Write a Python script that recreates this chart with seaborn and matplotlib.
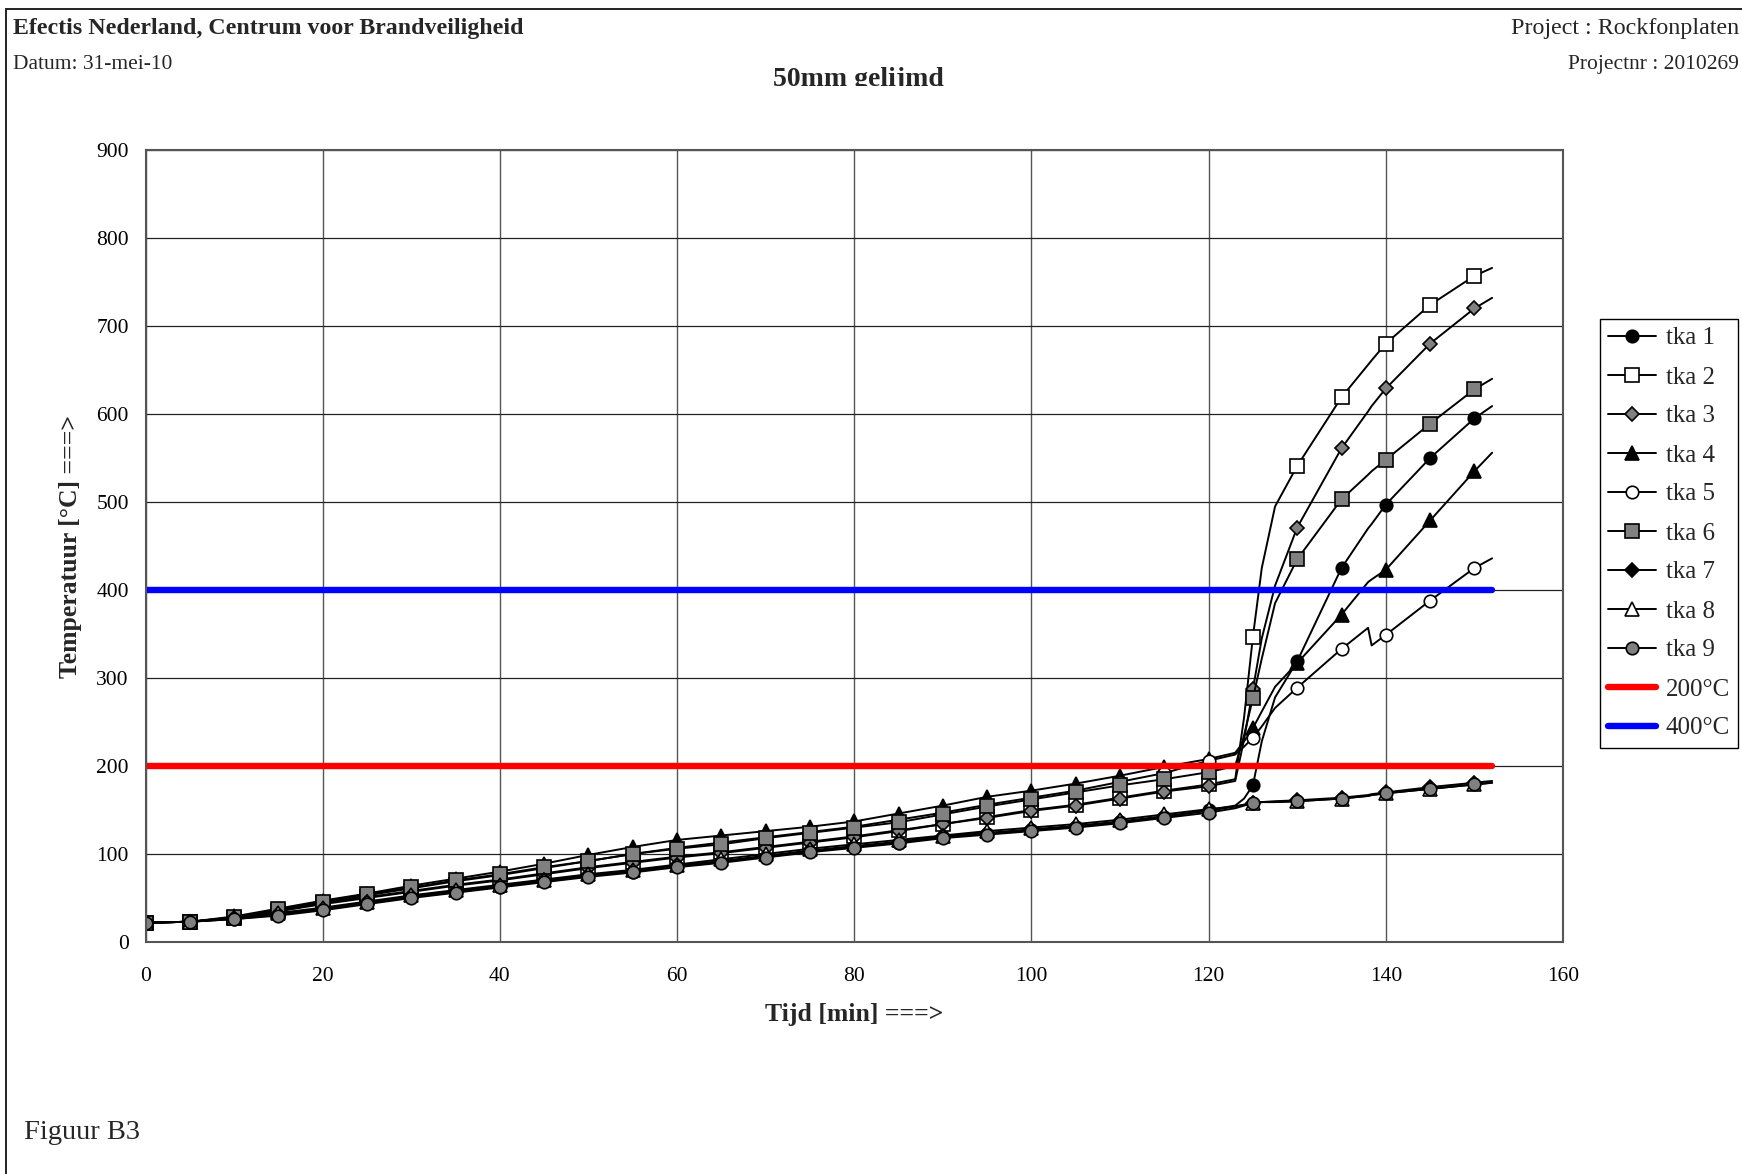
import numpy as np
import pandas as pd
import matplotlib
matplotlib.use("Agg")
import matplotlib.pyplot as plt
import matplotlib.transforms as mtransforms
from matplotlib.patches import Rectangle
import seaborn as sns

# ---------------- data ----------------
time_min = [0, 5, 10, 15, 20, 25, 30, 35, 40, 45, 50, 55, 60, 65, 70, 75, 80, 85, 90,
            95, 100, 105, 110, 115, 120, 123, 124, 125, 126, 127.5, 130, 135, 138,
            138.4, 140, 145, 150, 152]

tka1 = [22, 23, 26, 31, 37, 44, 51, 57, 63, 69, 75, 80, 86, 91, 97, 103, 108, 113, 119,
        123, 127, 131, 136, 142, 150, 155, 163, 178, 228, 278, 319, 425, 470, 475, 497,
        550, 595, 609]
tka2 = [22, 23, 27, 35, 44, 51, 58, 65, 71, 78, 85, 91, 97, 102, 108, 114, 120, 127, 134,
        142, 150, 156, 164, 172, 179, 185, 255, 347, 425, 495, 541, 619, 656, 661, 680,
        724, 757, 766]
tka3 = [22, 23, 27, 35, 43, 50, 57, 64, 70, 77, 84, 90, 96, 101, 107, 113, 119, 126, 134,
        141, 149, 155, 163, 171, 177, 183, 230, 287, 345, 405, 471, 561, 603, 609, 629,
        680, 720, 732]
tka4 = [22, 23, 29, 38, 47, 55, 64, 72, 80, 89, 99, 108, 116, 121, 126, 131, 137, 146, 155,
        165, 172, 180, 189, 199, 208, 215, 228, 243, 262, 290, 317, 372, 409, 412, 423,
        479, 535, 556]
tka5 = [22, 23, 28, 36, 45, 53, 61, 69, 76, 84, 92, 100, 107, 113, 119, 125, 131, 139, 147,
        156, 164, 172, 182, 192, 206, 213, 222, 232, 245, 266, 289, 333, 357, 337, 349,
        388, 425, 436]
tka6 = [22, 23, 28, 37, 46, 54, 62, 70, 77, 85, 92, 100, 106, 111, 118, 124, 130, 136, 145,
        154, 162, 170, 178, 185, 193, 200, 235, 277, 322, 385, 435, 503, 531, 535, 548,
        589, 628, 640]
tka7 = [22, 23, 27, 32, 38, 45, 52, 58, 64, 70, 76, 81, 87, 92, 98, 104, 109, 114, 120,
        124, 128, 132, 137, 143, 149, 154, 156, 158, 159, 160, 161, 164, 167, 168, 170,
        176, 181, 183]
tka8 = [22, 23, 27, 33, 39, 46, 53, 59, 65, 71, 77, 82, 88, 94, 100, 106, 111, 116, 121,
        126, 130, 134, 139, 145, 151, 154, 156, 158, 159, 159, 160, 163, 166, 167, 169,
        174, 179, 181]
tka9 = [22, 23, 26, 30, 36, 43, 50, 56, 62, 68, 74, 79, 85, 90, 96, 102, 107, 112, 118,
        122, 126, 130, 135, 141, 147, 152, 155, 158, 159, 159, 160, 163, 166, 167, 169,
        174, 179, 181]

series_names = ["tka 1", "tka 2", "tka 3", "tka 4", "tka 5", "tka 6", "tka 7", "tka 8", "tka 9"]
series_values = [tka1, tka2, tka3, tka4, tka5, tka6, tka7, tka8, tka9]

limit_time = [0, 152]
limit_200 = [200, 200]
limit_400 = [400, 400]

x_ticks = [0, 20, 40, 60, 80, 100, 120, 140, 160]
y_ticks = [0, 100, 200, 300, 400, 500, 600, 700, 800, 900]

# ---------------- styling ----------------
sns.set_style("white")
plt.rcParams["font.family"] = ["Liberation Serif", "DejaVu Serif"]

W, H = 1742, 1174
fig = plt.figure(figsize=(W / 100, H / 100), dpi=100)
ax = fig.add_axes([145.5 / W, 1 - 942 / H, (1563 - 145.5) / W, (942 - 150) / H])

marker_styles = [
    ("o", "black", 9.0),
    ("s", "white", 9.5),
    ("D", "#808080", 7.0),
    ("^", "black", 9.5),
    ("o", "white", 9.0),
    ("s", "#808080", 9.5),
    ("D", "black", 7.0),
    ("^", "white", 9.5),
    ("o", "#808080", 9.0),
]

t_arr = np.array(time_min, dtype=float)
mark_idx = [i for i, tv in enumerate(t_arr) if abs(tv / 5 - round(tv / 5)) < 1e-9]

for name, vals, (mk, fc, ms) in zip(series_names, series_values, marker_styles):
    df = pd.DataFrame({"t": time_min, "T": vals})
    sns.lineplot(data=df, x="t", y="T", ax=ax, color="black", lw=1.4, marker=mk,
                 markersize=ms, markerfacecolor=fc, markeredgecolor="black",
                 markeredgewidth=1.2, markevery=mark_idx, sort=False,
                 estimator=None, label=name, legend=False)

sns.lineplot(x=limit_time, y=limit_200, ax=ax, color="#ff0000", lw=4.6,
             solid_capstyle="round", label="200°C", legend=False)
sns.lineplot(x=limit_time, y=limit_400, ax=ax, color="#0000ff", lw=4.6,
             solid_capstyle="round", label="400°C", legend=False)

ax.set_xlim(0, 160)
ax.set_ylim(0, 900)
ax.set_xticks(x_ticks)
ax.set_yticks(y_ticks)
ax.set_xticklabels([str(v) for v in x_ticks])
ax.set_yticklabels([str(v) for v in y_ticks])
ax.yaxis.grid(True, color="#222222", lw=0.9)
ax.xaxis.grid(True, color="#555555", lw=1.0)
ax.set_axisbelow(True)
for sp in ax.spines.values():
    sp.set_visible(True)
    sp.set_color("#555555")
    sp.set_linewidth(1.5)
ax.tick_params(axis="both", which="major", direction="out", length=5, width=1.0,
               color="#444444", labelsize=15.5, labelcolor="black")
ax.tick_params(axis="x", pad=13)
ax.tick_params(axis="y", pad=7)

ax.set_xlabel("Tijd [min] ===>", fontsize=18.5, fontweight="bold", va="center")
ax.set_ylabel("Temperatuur [°C] ===>", fontsize=18.5, fontweight="bold", va="center")
ax.xaxis.set_label_coords(0.5, (942 - 1015) / 792)
ax.yaxis.set_label_coords((71 - 145.5) / 1417.5, 0.5)

handles = ax.get_lines()
leg = fig.legend(handles=handles, labels=[h.get_label() for h in handles],
                 loc="upper left", bbox_to_anchor=(1600 / W, 1 - 319 / H),
                 bbox_transform=fig.transFigure, frameon=True, fancybox=False,
                 shadow=False, framealpha=1, edgecolor="black", fontsize=18,
                 numpoints=1, handlelength=1.9, handletextpad=0.4,
                 labelspacing=0.66, borderpad=0.32, borderaxespad=0)
leg.get_frame().set_linewidth(1.0)

# ---------------- header / footer texts ----------------
fig.text(13 / W, 1 - 34 / H, "Efectis Nederland, Centrum voor Brandveiligheid",
         fontsize=17.2, fontweight="bold", ha="left", va="baseline")
fig.text(13 / W, 1 - 69 / H, "Datum: 31-mei-10", fontsize=15.5, ha="left", va="baseline")
fig.text(1739 / W, 1 - 34 / H, "Project : Rockfonplaten", fontsize=17.3,
         ha="right", va="baseline")
fig.text(1739 / W, 1 - 69 / H, "Projectnr : 2010269", fontsize=15.5,
         ha="right", va="baseline")
title = fig.text(858 / W, 1 - 86 / H, "50mm gelijmd", fontsize=20, fontweight="bold",
                 ha="center", va="baseline")
title.set_clip_box(mtransforms.Bbox.from_extents(0, H - 86, W, H))
title.set_clip_on(True)
fig.text(24 / W, 1 - 1139 / H, "Figuur B3", fontsize=20.5, ha="left", va="baseline")

# outer frame (left and top edges visible)
frame = Rectangle((6 / W, -0.1), 1.2, (1 - 8.5 / H) + 0.1, transform=fig.transFigure,
                  fill=False, edgecolor="#222222", lw=1.4, clip_on=False)
fig.add_artist(frame)

fig.savefig("out.png", dpi=100)
